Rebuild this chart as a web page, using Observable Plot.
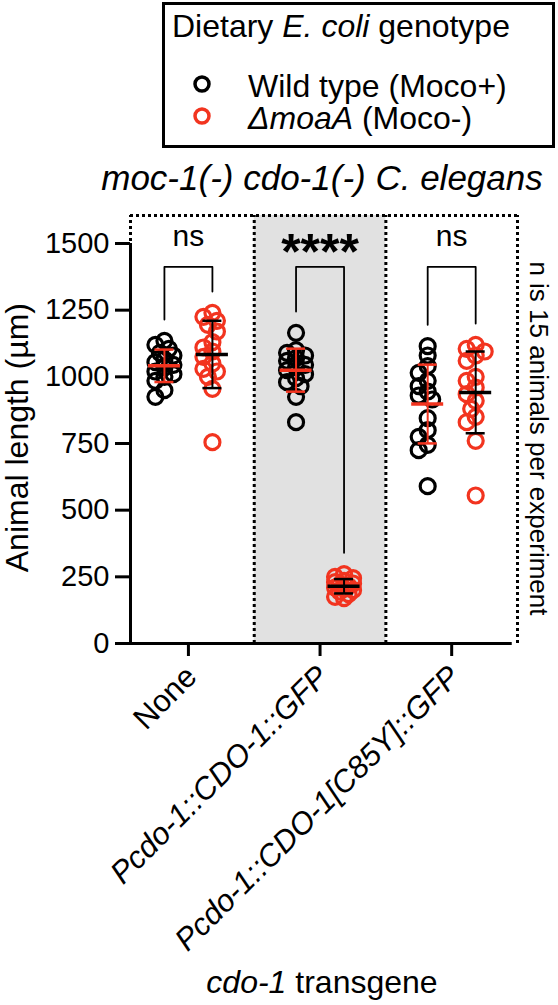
<!DOCTYPE html>
<html><head><meta charset="utf-8">
<script src="https://cdn.jsdelivr.net/npm/d3@7"></script>
<script src="https://cdn.jsdelivr.net/npm/@observablehq/plot@0.6"></script>
<style>
body{margin:0;background:#fff;}
#wrap{position:relative;width:558px;height:1005px;font-family:"Liberation Sans",Arial,sans-serif;color:#000;overflow:hidden;background:#fff}
.abs{position:absolute;white-space:nowrap;line-height:1}
</style></head>
<body><div id="wrap"></div>
<script>
// ---------- data ----------
const groups = ["None", "Pcdo-1::CDO-1::GFP", "Pcdo-1::CDO-1[C85Y]::GFP"];
const genotypes = ["Wild type (Moco+)", "ΔmoaA (Moco-)"];
const colors = ["#000000", "#f2341f"];
const wtNone   = [1135, 1120, 1105, 1090, 1080, 1065, 1055, 1045, 1035, 1020, 1010, 1000, 985, 950, 925];
const moaNone  = [1240, 1225, 1210, 1195, 1170, 1130, 1110, 1095, 1075, 1050, 1030, 1020, 1000, 955, 755];
const wtCdo    = [1165, 1100, 1090, 1080, 1070, 1060, 1045, 1035, 1025, 1010, 995, 980, 965, 925, 830];
const moaCdo   = [260, 250, 245, 235, 230, 225, 220, 215, 210, 205, 200, 195, 185, 175, 170];
const wtC85Y   = [1115, 1080, 1040, 1015, 985, 965, 945, 930, 915, 845, 800, 775, 745, 725, 590];
const moaC85Y  = [1120, 1105, 1095, 1080, 1060, 1000, 985, 960, 935, 910, 880, 850, 830, 760, 555];
const series = [[wtNone, moaNone], [wtCdo, moaCdo], [wtC85Y, moaC85Y]];
const significance = ["ns", "****", "ns"];
const yTicks = [0, 250, 500, 750, 1000, 1250, 1500];
const shadedGroup = [1];

// ---------- layout ----------
const W = 558, svgTop = 200, svgH = 760;
const mL = 130, mR = 41, mT = 15, zeroPx = 443;
const xMin = -0.44, xMax = 2.5, yTop = 1605, axisTop = 1500;
const pxX = (W - mL - mR) / (xMax - xMin);
const pxY = (zeroPx - mT) / yTop;
const genoOffset = 24 / pxX;     // horizontal offset of each genotype column
const bracketY = 1412, legGap = 80;
const dotted = {strokeWidth: 3, strokeDasharray: "3,3", stroke: "#000"};

// deterministic swarm layout (pixel offsets)
function swarm(values) {
  const order = d3.range(values.length).sort((a, b) => values[b] - values[a]);
  const placed = [], off = new Array(values.length);
  const cands = [0, -4.5, 4.5, -9, 9];
  for (const i of order) {
    const y = values[i] * pxY;
    let best = 0, bestScore = -Infinity;
    for (const c of cands) {
      let md = Infinity;
      for (const p of placed) md = Math.min(md, Math.hypot(c - p.x, y - p.y));
      if (md >= 9) { best = c; break; }
      if (md > bestScore) { bestScore = md; best = c; }
    }
    placed.push({x: best, y}); off[i] = best;
  }
  return off;
}

const points = [], stats = [], brackets = [];
series.forEach((pair, g) => {
  pair.forEach((vals, k) => {
    const cx = g + (k === 0 ? -genoOffset : genoOffset);
    const offs = swarm(vals);
    vals.forEach((v, i) => points.push({g, k, v, x: cx + offs[i] / pxX, color: colors[k]}));
    stats.push({g, k, x: cx, mean: d3.mean(vals), sd: d3.deviation(vals),
      barColor: colors[1 - k]});
  });
  const xa = g - genoOffset, xb = g + genoOffset;
  brackets.push({g, x: xa, y: d3.max(pair[0]) + legGap}, {g, x: xa, y: bracketY},
                {g, x: xb, y: bracketY}, {g, x: xb, y: d3.max(pair[1]) + legGap});
});
const halfMean = 16 / pxX, halfCap = 9.5 / pxX;

const chart = Plot.plot({
  width: W, height: svgH,
  marginLeft: mL, marginRight: mR, marginTop: mT, marginBottom: svgH - zeroPx,
  x: {domain: [xMin, xMax], axis: null},
  y: {domain: [0, yTop], axis: null},
  color: {type: "identity"},
  style: {fontFamily: '"Liberation Sans", Arial, sans-serif', color: "#000", background: "transparent", overflow: "visible"},
  marks: [
    Plot.rect(shadedGroup, {x1: d => d - 0.5, x2: d => d + 0.5, y1: 0, y2: yTop, fill: "#e1e1e1"}),
    Plot.ruleY([yTop], {x1: xMin, x2: xMax, ...dotted}),
    Plot.ruleX([xMin, 0.5, 1.5, xMax], {y1: 0, y2: yTop, ...dotted}),
    Plot.ruleX([xMin], {y1: 0, y2: axisTop, strokeWidth: 3}),
    Plot.ruleY([0], {x1: xMin, x2: xMax - 0.04, strokeWidth: 3}),
    Plot.axisY(yTicks, {tickSize: 15, tickPadding: 6, fontSize: 29, strokeWidth: 3, label: null, tickFormat: d => String(d)}),
    Plot.axisX([0, 1, 2], {tickSize: 13, strokeWidth: 3, tickFormat: () => "", label: null}),
    Plot.text([0], {x: d => d, y: 0, text: d => groups[d], rotate: -45, textAnchor: "end", dx: 3, dy: 28, fontSize: 31}),
    Plot.text([1, 2], {x: d => d, y: 0, text: d => groups[d], rotate: -45, textAnchor: "end", dx: 3, dy: 28, fontSize: 31, fontStyle: "italic"}),
    Plot.text(["Animal length (µm)"], {frameAnchor: "left", textAnchor: "middle", y: 772, dx: -113, rotate: -90, fontSize: 32}),
    Plot.text(["n is 15 animals per experiment"], {frameAnchor: "right", textAnchor: "middle", y: 769, dx: 21, rotate: 90, fontSize: 26}),
    Plot.line(brackets, {x: "x", y: "y", z: "g", stroke: "#000", strokeWidth: 1.8}),
    Plot.text([0, 2], {x: d => d, y: 1492, text: d => significance[d], fontSize: 30, lineAnchor: "bottom"}),
    Plot.text([1], {x: d => d, y: 1405, text: d => significance[d], fontSize: 50, fontWeight: "bold", lineAnchor: "bottom"}),
    Plot.dot(points, {x: "x", y: "v", r: 7.5, stroke: "color", strokeWidth: 3.2, fill: "none"}),
    Plot.ruleX(stats, {x: "x", y1: d => d.mean - d.sd, y2: d => d.mean + d.sd, stroke: "barColor", strokeWidth: 2}),
    Plot.ruleY(stats, {y: d => d.mean + d.sd, x1: d => d.x - halfCap, x2: d => d.x + halfCap, stroke: "barColor", strokeWidth: 2.5}),
    Plot.ruleY(stats, {y: d => d.mean - d.sd, x1: d => d.x - halfCap, x2: d => d.x + halfCap, stroke: "barColor", strokeWidth: 2.5}),
    Plot.ruleY(stats, {y: "mean", x1: d => d.x - halfMean, x2: d => d.x + halfMean, stroke: "barColor", strokeWidth: 3.5})
  ]
});

// ---------- page assembly ----------
const wrap = document.getElementById("wrap");
function add(html, style) {
  const d = document.createElement("div");
  d.className = "abs"; d.innerHTML = html; d.style.cssText += style;
  wrap.appendChild(d); return d;
}
// legend
add("", "left:162px;top:2px;width:393px;height:146px;border:3px solid #000;box-sizing:border-box;");
add("Dietary <i>E. coli</i> genotype", "left:172px;top:10px;font-size:32px;");
const legendLabels = [genotypes[0], "<i>ΔmoaA</i> (Moco-)"];
legendLabels.forEach((lab, k) => {
  const top = 70 + k * 32;
  add(lab, `left:248px;top:${top}px;font-size:32px;`);
  add(`<svg width="20" height="20"><circle cx="10" cy="10" r="7" fill="none" stroke="${colors[k]}" stroke-width="3.5"/></svg>`,
      `left:192px;top:${top + 4}px;`);
});
// title
add("<i>moc-1(-) cdo-1(-) C. elegans</i>", "left:0;width:644px;text-align:center;top:160px;font-size:35px;");
// chart
chart.style.position = "absolute"; chart.style.left = "0px"; chart.style.top = svgTop + "px";
wrap.appendChild(chart);
// x title
add("<i>cdo-1</i> transgene", "left:0;width:644px;text-align:center;top:966px;font-size:32px;");
</script>
</body></html>
